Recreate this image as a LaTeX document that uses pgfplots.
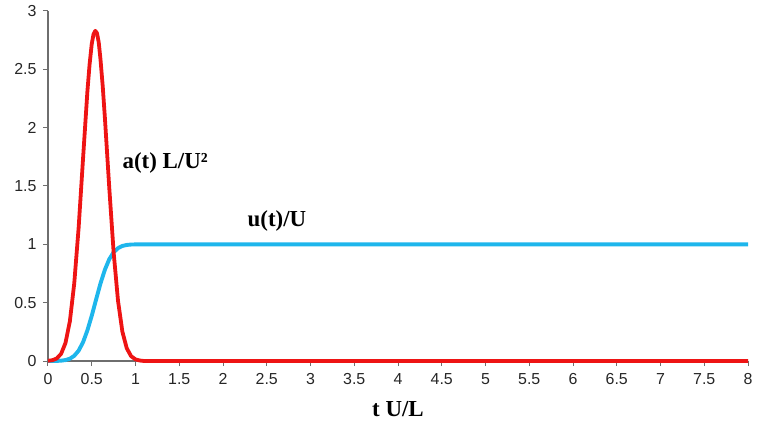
\documentclass[border=0pt]{standalone}
\usepackage{fontspec}
\setmainfont{Liberation Serif}
\newfontfamily\arial{Liberation Sans}
\usepackage{pgfplots}
\pgfplotsset{compat=1.18}
\definecolor{redc}{RGB}{238,20,20}
\definecolor{bluec}{RGB}{30,182,236}
\definecolor{axgray}{RGB}{110,110,110}
\begin{document}
\begin{tikzpicture}
\useasboundingbox (-48bp,-62bp) rectangle (709bp,361bp);
\begin{axis}[
  at={(0,0)}, anchor=south west,
  scale only axis, width=700bp, height=350bp,
  xmin=0, xmax=8, ymin=0, ymax=3,
  xtick={0,0.5,...,8}, ytick={0,0.5,...,3},
  axis x line=bottom, axis y line=left,
  axis line style={draw=axgray, line width=1.2bp, -},
  tick align=outside, tick style={draw=axgray, line width=1bp},
  major tick length=5bp,
  ticklabel style={font=\arial\fontsize{16}{16}\selectfont, text=black!85},
  /pgf/number format/assume math mode=true,
  /pgf/number format/fixed,
  xticklabel style={yshift=-4bp},
  yticklabel style={xshift=-3bp},
  xlabel={\bfseries t U/L},
  x label style={at={(axis description cs:0.5,0)}, anchor=center, yshift=-48bp, font=\fontsize{23}{23}\selectfont},
  clip=false,
]
\addplot[bluec, line width=3.9bp, line join=round] coordinates {
(0,0.0001) (0.05,0.0003) (0.1,0.0009) (0.15,0.0028) (0.2,0.008) (0.25,0.0197) (0.3,0.0446) (0.35,0.0885)
(0.4,0.160) (0.45,0.262) (0.5,0.388) (0.55,0.528) (0.6,0.665) (0.65,0.782) (0.7,0.872)
(0.75,0.932) (0.8,0.967) (0.85,0.986) (0.9,0.9947) (0.95,0.9982) (1.0,0.9994) (1.1,1.0) (8,1.0)};
\addplot[redc, line width=3.8bp, line join=round] coordinates {
(0,0.0018) (0.05,0.0067) (0.1,0.0217) (0.15,0.0617) (0.2,0.155) (0.25,0.341) (0.3,0.665)
(0.35,1.141) (0.4,1.729) (0.45,2.308) (0.475,2.54) (0.5,2.718) (0.52,2.80) (0.54,2.83) (0.56,2.81) (0.58,2.73) (0.6,2.585) (0.625,2.36) (0.65,2.087)
(0.7,1.487) (0.75,0.933) (0.8,0.517) (0.85,0.252) (0.9,0.109) (0.95,0.041) (1.0,0.0138)
(1.05,0.004) (1.1,0) (8,0)};
\node[anchor=west, font=\bfseries\fontsize{23}{23}\selectfont, inner sep=0pt] at (axis cs:0.85,1.70) {a(t) L/U²};
\node[anchor=west, font=\bfseries\fontsize{23}{23}\selectfont, inner sep=0pt] at (axis cs:2.28,1.20) {u(t)/U};
\end{axis}
\end{tikzpicture}
\end{document}
